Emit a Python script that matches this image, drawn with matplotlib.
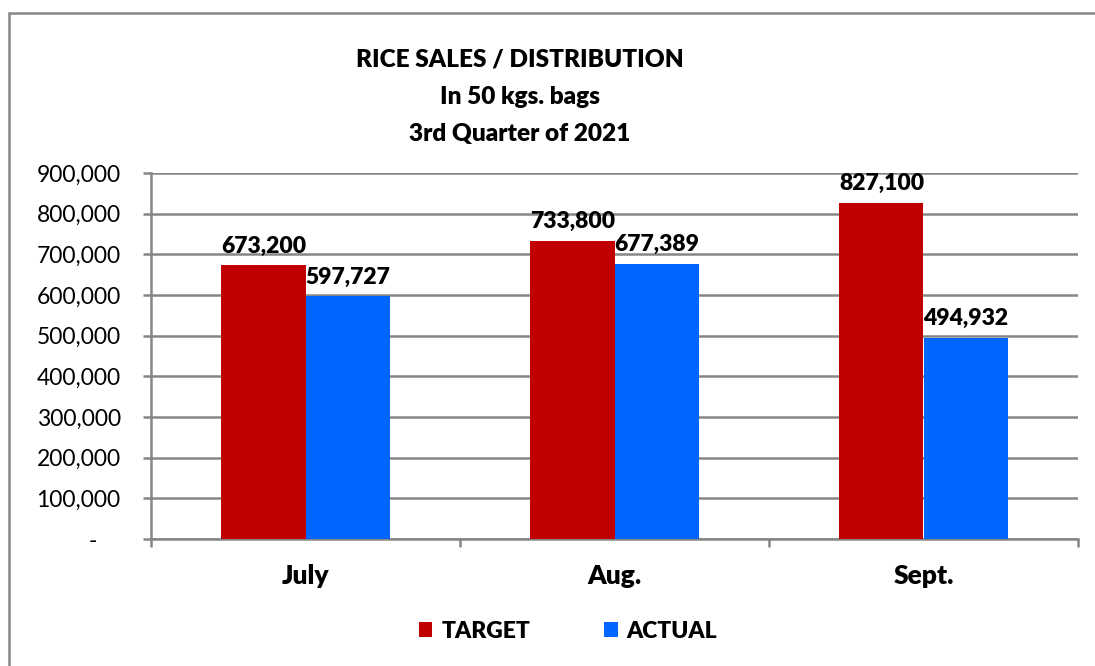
import matplotlib.pyplot as plt
import numpy as np
from matplotlib.patches import Rectangle

months = ["July", "Aug.", "Sept."]
target = [673200, 733800, 827100]
actual = [597727, 677389, 494932]
y_ticks = [0, 100000, 200000, 300000, 400000, 500000, 600000, 700000, 800000, 900000]

plt.rcParams['font.family'] = ['Lato', 'DejaVu Sans']

W, H = 1095, 666
fig = plt.figure(figsize=(W / 100, H / 100), dpi=100)
ax = fig.add_axes([151 / W, 1 - 539 / H, (1078 - 151) / W, (539 - 173) / H])

grid_c = "#868686"
red = "#C00000"
blue = "#0066FF"
bold = "heavy"

x = np.arange(len(months))
bw = 0.272
ax.bar(x - bw / 2, target, bw, color=red, label="TARGET", zorder=3)
ax.bar(x + bw / 2, actual, bw, color=blue, label="ACTUAL", zorder=3)

for xi, v in zip(x, target):
    ax.annotate(f"{v:,}", (xi - bw / 2, v), xytext=(0, 6), textcoords="offset points",
                ha="center", va="bottom", fontsize=16.5, fontweight=bold)
for xi, v in zip(x, actual):
    ax.annotate(f"{v:,}", (xi + bw / 2, v), xytext=(0, 6), textcoords="offset points",
                ha="center", va="bottom", fontsize=16.5, fontweight=bold)

ax.set_xlim(-0.5, 2.5)
ax.set_ylim(0, 900000)
ax.set_yticks(y_ticks)
# accounting style zero: dash sits left of the digits column
ax.set_yticklabels(["-    " if t == 0 else f"{t:,}" for t in y_ticks], fontsize=16.5)
ax.yaxis.grid(True, color=grid_c, lw=1.8, zorder=0)
ax.set_axisbelow(True)

# category ticks at boundaries
ax.set_xticks([-0.5, 0.5, 1.5, 2.5])
ax.set_xticklabels([])
ax.set_xticks(x, minor=True)
ax.set_xticklabels(months, minor=True, fontsize=19, fontweight=bold)
ax.tick_params(axis="x", which="minor", length=0, pad=18)
ax.tick_params(axis="x", which="major", length=5.8, width=1.8, color=grid_c)
ax.tick_params(axis="y", length=5.8, width=1.8, color=grid_c, pad=16)

for s in ["top", "right"]:
    ax.spines[s].set_visible(False)
for s in ["left", "bottom"]:
    ax.spines[s].set_color(grid_c)
    ax.spines[s].set_linewidth(1.8)

fig.text(520 / W, 1 - 97 / H, "RICE SALES / DISTRIBUTION\nIn 50 kgs. bags\n3rd Quarter of 2021",
         ha="center", va="center", fontsize=17.6, fontweight=bold, linespacing=1.85)

leg = fig.legend(loc="center", bbox_to_anchor=(568 / W, 1 - 631 / H), ncol=2, frameon=False,
                 prop={"size": 16.5, "weight": bold}, handlelength=0.6, handleheight=0.6,
                 columnspacing=3.2, handletextpad=0.4)

# outer chart border
fig.patches.append(Rectangle((9 / W, -0.05), 1.1, 1 - 13 / H + 0.05, transform=fig.transFigure,
                             fill=False, edgecolor=grid_c, lw=1.8))

fig.savefig("out.png", dpi=100)
